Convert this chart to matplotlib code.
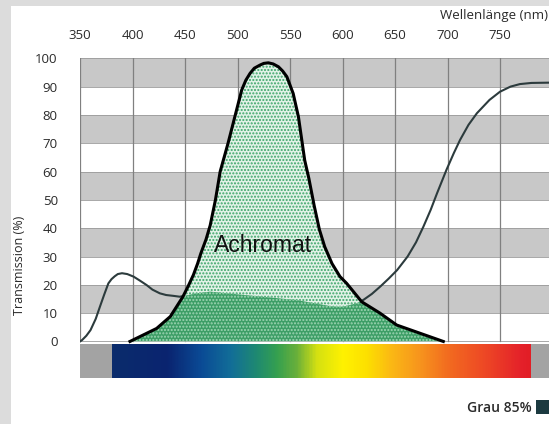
import matplotlib
matplotlib.use("Agg")
import matplotlib.pyplot as plt
import numpy as np
from matplotlib.patches import Rectangle, Polygon
from matplotlib.colors import LinearSegmentedColormap

# Grau 85% filter curve (nm, transmission %)
grey85_nm = [350, 352, 356, 360, 365, 369, 373, 377, 380, 383, 386, 390, 395, 401, 407, 413.5, 419, 426,
             432, 439, 445, 461, 474, 490, 507, 557, 591, 601, 607, 614, 620, 628, 636, 644, 652,
             662, 670, 677, 684, 690, 699, 706, 712, 720, 728, 740, 750, 760, 769, 780, 797]
grey85_v = [0, 0.5, 2, 4, 8, 12.3, 16.5, 20.5, 22, 23, 23.8, 24.1, 23.8, 22.9, 21.5, 19.9, 18.3, 17,
            16.4, 16.1, 15.8, 17, 17.6, 17, 16.4, 14.6, 12.3, 12.3, 12.9, 13.5, 14.7, 16.8, 19.4, 22.2, 25.2,
            30, 35, 40.5, 46.5, 52.3, 60.6, 66.5, 71.2, 76.5, 80.6, 85.3, 88.2, 90, 90.9, 91.3, 91.4]

# Achromat curve
achromat_nm = [397.6, 423, 436, 448, 453, 458, 462, 465, 470, 474, 479, 483.5, 491, 497.5, 504, 508,
               512, 516, 521.4, 525, 529.4, 534, 539, 543, 547, 553, 558, 564, 568, 573, 578, 583,
               590, 597.6, 604, 618.3, 635.7, 651.6, 696]
achromat_v = [0, 4.6, 8.8, 15.8, 19.5, 23.5, 27.5, 31, 36, 41, 50, 60, 70, 79.4, 88.8, 92.3,
              94.7, 96.5, 97.6, 98.2, 98.4, 98, 97, 95.5, 93.5, 87.6, 79.4, 64, 57.5, 48, 39.5, 33.5,
              27.5, 22.9, 20.5, 14, 10, 5.8, 0]

# spectrum bar colour stops
spectrum_nm = [380, 432, 464, 493, 518, 537, 556, 575, 600, 623, 648, 674, 702, 734, 772, 779]
spectrum_col = ['#0b2c6c', '#0a2470', '#0a4a95', '#126e98', '#1f8a70', '#35a050', '#6ab03a', '#d4e012',
                '#fff200', '#fde000', '#fbb615', '#f7941d', '#f26a20', '#ee4a25', '#e4202a', '#e21e26']

x_ticks = [350, 400, 450, 500, 550, 600, 650, 700, 750]
y_ticks = [0, 10, 20, 30, 40, 50, 60, 70, 80, 90, 100]

W, H = 549, 424
fig = plt.figure(figsize=(W / 100, H / 100), dpi=100)
fig.patch.set_facecolor('#dcdcdc')
fig.add_artist(Rectangle((11 / W, 0), 1, 1 - 6 / H, transform=fig.transFigure,
                         facecolor='white', edgecolor='none', zorder=0))

ax = fig.add_axes([80 / W, 1 - 377.7 / H, 1 - 80 / W, (377.7 - 58.3) / H])
ax.set_xlim(350, 350 + 469 / 1.05)
ax.set_ylim(-12.8, 100)
ax.set_facecolor('none')
for s in ax.spines.values():
    s.set_visible(False)

# bands and grid
for lo in range(0, 100, 10):
    col = '#c8c8c8' if (lo // 10) % 2 == 1 else 'white'
    ax.axhspan(lo, lo + 10, color=col, lw=0, zorder=0)
for y in range(0, 101, 10):
    ax.axhline(y, color='#9a9a9a', lw=0.6, zorder=1)
for x in range(350, 801, 50):
    ax.plot([x, x], [0, 100], color='#808080', lw=0.9, zorder=1)

# band below the axis and spectrum
ax.axhspan(-12.8, -0.9, color='#a3a3a3', lw=0, zorder=1)
cmap = LinearSegmentedColormap.from_list(
    'spec', [((n - spectrum_nm[0]) / (spectrum_nm[-1] - spectrum_nm[0]), c)
             for n, c in zip(spectrum_nm, spectrum_col)])
ax.imshow(np.linspace(0, 1, 400)[None, :], cmap=cmap, aspect='auto',
          extent=[spectrum_nm[0], spectrum_nm[-1], -12.8, -0.9], zorder=2, interpolation='bilinear')

# grey 85% curve
ax.plot(grey85_nm, grey85_v, color='#2c3b3d', lw=1.5, zorder=3)

# achromat light fill
plt.rcParams['hatch.linewidth'] = 1.0
ax.fill_between(achromat_nm, 0, achromat_v, facecolor='#e2f2e7', edgecolor='#3aa468',
                hatch='.....', lw=0, zorder=4)
# overlap (dark) fill clipped to the achromat shape
clip = Polygon(np.column_stack([achromat_nm, achromat_v]), closed=True,
               transform=ax.transData, facecolor='none', edgecolor='none')
ax.add_patch(clip)
dark = ax.fill_between(grey85_nm, 0, grey85_v, facecolor='#3d9e66', edgecolor='#9fd6b4',
                       hatch='.....', lw=0, zorder=5)
dark.set_clip_path(clip)
ax.plot(achromat_nm, achromat_v, color='black', lw=2.2, zorder=6, solid_joinstyle='round')

ax.text(524, 31.6, 'Achromat', fontsize=16.5, family='Liberation Sans', ha='center',
        va='baseline', color='#111111', zorder=7)

# ticks
ax.xaxis.tick_top()
ax.set_xticks(x_ticks)
ax.set_xticklabels([str(v) for v in x_ticks], fontsize=9.5, family='Open Sans', color='#2a2a2a')
ax.set_yticks(y_ticks)
ax.set_yticklabels([str(v) for v in y_ticks], fontsize=9.5, family='Open Sans', color='#2a2a2a')
ax.tick_params(axis='x', length=0, pad=12)
ax.tick_params(axis='y', length=0, pad=16)

fig.text(548 / W, 1 - 16 / H, 'Wellenlänge (nm)', fontsize=9.5, family='Open Sans',
         color='#2a2a2a', ha='right', va='center')
fig.text(19.5 / W, 1 - 265 / H, 'Transmission (%)', fontsize=9, family='Open Sans',
         color='#2a2a2a', ha='center', va='center', rotation=90)
fig.text(531.7 / W, 1 - 408 / H, 'Grau 85%', fontsize=10, family='Open Sans', weight='semibold',
         color='#2a2a2a', ha='right', va='center')
fig.add_artist(Rectangle((536 / W, 1 - 414 / H), 14 / W, 14 / H, transform=fig.transFigure,
                         facecolor='#1c3a40', edgecolor='none'))

fig.savefig('out.png', dpi=100, facecolor=fig.get_facecolor())
